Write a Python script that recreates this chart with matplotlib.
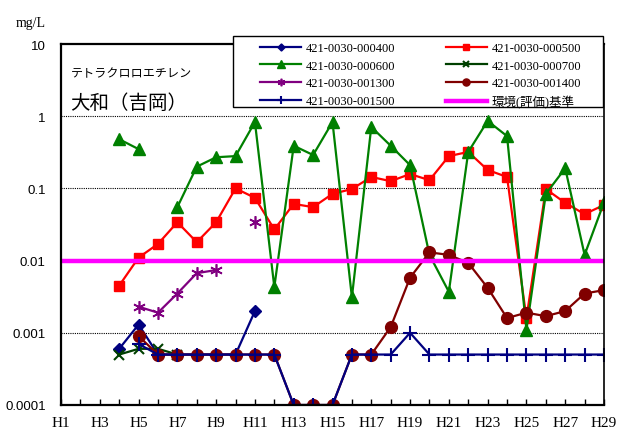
import numpy as np
import matplotlib
matplotlib.use("Agg")
import matplotlib.pyplot as plt
from matplotlib.patches import Rectangle

nan = np.nan
years = list(range(1, 30))
xlabels = ["H%d" % y if y % 2 == 1 else "" for y in years]

s400 = [nan, nan, nan, 0.0006, 0.0013, 0.0005, 0.0005, 0.0005, 0.0005, 0.0005, 0.002,
        nan, nan, nan, nan, nan, nan, nan, nan, nan, nan, nan, nan, nan, nan, nan, nan, nan, nan]
s500 = [nan, nan, nan, 0.0045, 0.011, 0.017, 0.034, 0.018, 0.034, 0.1, 0.074, 0.027, 0.061,
        0.055, 0.084, 0.098, 0.144, 0.126, 0.158, 0.13, 0.28, 0.32, 0.18, 0.144, 0.0016,
        0.098, 0.063, 0.044, 0.059]
s600 = [nan, nan, nan, 0.48, 0.35, nan, 0.055, 0.2, 0.27, 0.28, 0.83, 0.0043, 0.39, 0.29,
        0.83, 0.0031, 0.71, 0.39, 0.21, 0.012, 0.0037, 0.32, 0.86, 0.53, 0.0011, 0.084,
        0.19, 0.012, 0.064]
s700 = [nan, nan, nan, 0.0005, 0.0006, 0.0006, 0.0005, nan, nan, nan, nan, nan, nan, nan,
        nan, nan, nan, nan, nan, nan, nan, nan, nan, nan, nan, nan, nan, nan, nan]
s1300 = [nan, nan, nan, nan, 0.0023, 0.0019, 0.0035, 0.0067, 0.0074, nan, 0.034, nan, nan,
         nan, nan, nan, nan, nan, nan, nan, nan, nan, nan, nan, nan, nan, nan, nan, nan]
s1400 = [nan, nan, nan, nan, 0.0009, 0.0005, 0.0005, 0.0005, 0.0005, 0.0005, 0.0005, 0.0005,
         0.0001, 0.0001, 0.0001, 0.0005, 0.0005, 0.0012, 0.0058, 0.013, 0.012, 0.0093,
         0.0042, 0.0016, 0.0019, 0.0017, 0.002, 0.0035, 0.0039]
s1500 = [nan, nan, nan, nan, 0.0007, 0.0005, 0.0005, 0.0005, 0.0005, 0.0005, 0.0005, 0.0005,
         0.0001, 0.0001, 0.0001, 0.0005, 0.0005, 0.0005, 0.001, 0.0005, 0.0005, 0.0005,
         0.0005, 0.0005, 0.0005, 0.0005, 0.0005, 0.0005, 0.0005]
standard = 0.01

names = ["421-0030-000400", "421-0030-000500", "421-0030-000600", "421-0030-000700",
         "421-0030-001300", "421-0030-001400", "421-0030-001500", "環境(評価)基準"]
ytick_vals = [0.0001, 0.001, 0.01, 0.1, 1, 10]
ytick_labels = ["0.0001", "0.001", "0.01", "0.1", "1", "10"]

serif = ["Liberation Serif", "Noto Sans CJK JP"]
sans = ["Liberation Sans", "DejaVu Sans"]
cjk = ["Noto Sans CJK JP", "DejaVu Sans"]

fig = plt.figure(figsize=(6.2, 4.35), dpi=100)
ax = fig.add_axes([61 / 620, 1 - 406 / 435, (604 - 61) / 620, (406 - 45) / 435])
ax.set_yscale("log")

lw = 1.6
h = {}
h[0], = ax.plot(years, s400, color="#000080", marker="D", ms=6, lw=lw)
h[1], = ax.plot(years, s500, color="#FF0000", marker="s", ms=7.5, lw=lw)
h[2], = ax.plot(years, s600, color="#008000", marker="^", ms=8.5, lw=lw)
h[3], = ax.plot(years, s700, color="#004000", marker="x", ms=7, mew=1.5, lw=lw)
h[4], = ax.plot(years, s1300, color="#800080", marker=(6, 2, 0), ms=9, mew=1.2, lw=lw)
h[5], = ax.plot(years, s1400, color="#800000", marker="o", ms=8.5, lw=lw)
h[6], = ax.plot(years, s1500, color="#000080", marker="+", ms=10, mew=1.5, lw=lw)
h[7], = ax.plot([years[0], years[-1]], [standard, standard], color="#FF00FF", lw=3.2)

ax.set_xlim(1, 29)
ax.set_ylim(1e-4, 10)
ax.set_xticks(years)
ax.set_xticklabels(xlabels, fontfamily=serif, fontsize=11)
ax.tick_params(axis="x", direction="in", length=4, pad=8, width=1)
ax.set_yticks(ytick_vals)
ax.set_yticklabels(ytick_labels, fontfamily=sans, fontsize=9.5)
ax.yaxis.set_minor_locator(matplotlib.ticker.NullLocator())
ax.tick_params(axis="y", length=0, pad=11)
for yv in [0.001, 0.01, 0.1, 1]:
    ax.axhline(yv, color="black", lw=0.8, ls=(0, (1, 1)), zorder=0.5)
for s in ax.spines.values():
    s.set_linewidth(1.6)
ax.spines["right"].set_linewidth(1.2)

fig.text(16 / 620, 1 - 23 / 435, "mg/L", fontfamily=serif, fontsize=10, va="center", ha="left")
ax.text(71 / 620, 1 - 74 / 435, "テトラクロロエチレン", transform=fig.transFigure,
        fontfamily=cjk, fontsize=8.7, va="center", ha="left")
ax.text(70 / 620, 1 - 103 / 435, "大和（吉岡）", transform=fig.transFigure,
        fontfamily=cjk, fontsize=14, va="center", ha="left")

# legend frame
fig.patches.append(Rectangle((233 / 620, 1 - 108 / 435), (603 - 233) / 620, (108 - 37) / 435,
                             transform=fig.transFigure, facecolor="white", edgecolor="black",
                             lw=1.0, zorder=3))
order = [0, 2, 4, 6, 1, 3, 5, 7]
leg = fig.legend([h[i] for i in order], [names[i] for i in order], ncol=2,
                 loc="upper left", bbox_to_anchor=(250 / 620, 1 - 33 / 435),
                 frameon=False, prop={"family": serif, "size": 9},
                 handlelength=3.3, handletextpad=0.4, columnspacing=4.0,
                 labelspacing=0.45, borderpad=0.3, markerscale=0.6)
leg.set_zorder(4)

fig.savefig("out.png", dpi=100)
